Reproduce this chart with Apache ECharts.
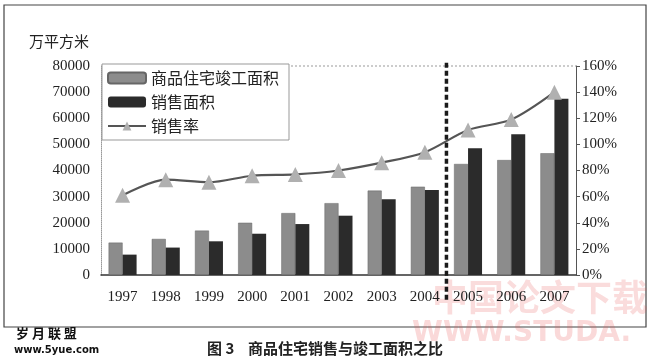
<!DOCTYPE html>
<html><head><meta charset="utf-8">
<script src="https://cdn.jsdelivr.net/npm/echarts@6/dist/echarts.min.js"></script>
<style>html,body{margin:0;padding:0;background:#fff}#c{width:650px;height:363px}</style>
</head><body><div id="c"></div>
<script>
const years = ['1997','1998','1999','2000','2001','2002','2003','2004','2005','2006','2007'];
const completed = [12400, 13800, 17000, 20000, 23700, 27500, 32300, 33800, 42500, 44000, 46600];
const sold = [7800, 10500, 12900, 15800, 19500, 22700, 29000, 32500, 48500, 53900, 67500];
const rate = [61, 73, 71, 76, 77, 80, 86, 94, 111, 119, 140];
const leftTicks = {min: 0, max: 80000, interval: 10000};
const rightTicks = {min: 0, max: 160, interval: 20};
const divider = [[8, -9500], [8, 82000]];

const serif = '"Liberation Serif", "Noto Sans CJK SC", serif';
const cjk = '"Noto Sans CJK SC", sans-serif';
const chart = echarts.init(document.getElementById('c'));
chart.setOption({
  animation: false,
  backgroundColor: '#fff',
  grid: {left: 101, right: 74, top: 66, bottom: 88},
  legend: {
    orient: 'vertical', left: 102, top: 64,
    backgroundColor: '#fff', borderColor: '#999', borderWidth: 1,
    padding: [6, 10, 6, 5], itemGap: 8, itemWidth: 38, itemHeight: 11,
    textStyle: {fontFamily: cjk, fontSize: 16, color: '#222'},
    data: [
      {name: '商品住宅竣工面积'},
      {name: '销售面积'},
      {name: '销售率'}
    ]
  },
  xAxis: [{
    type: 'category', data: years,
    axisLine: {lineStyle: {color: '#333', width: 1.5}},
    axisTick: {show: false},
    axisLabel: {fontFamily: serif, fontSize: 15, color: '#222', margin: 15}
  }, {
    type: 'value', min: 0, max: 11, show: false
  }],
  yAxis: [{
    type: 'value', ...leftTicks, name: '万平方米',
    nameTextStyle: {fontFamily: cjk, fontSize: 15, color: '#222', align: 'right', padding: [0, 12, 2, 0]},
    axisLine: {show: true, lineStyle: {color: '#999', type: 'dotted'}},
    axisTick: {show: false},
    splitLine: {show: false},
    axisLabel: {fontFamily: serif, fontSize: 15, color: '#222', margin: 11, formatter: v => String(v)}
  }, {
    type: 'value', ...rightTicks, position: 'right',
    axisLine: {show: true, lineStyle: {color: '#555'}},
    axisTick: {show: true, inside: false, length: 4, lineStyle: {color: '#555'}},
    splitLine: {show: false},
    axisLabel: {fontFamily: serif, fontSize: 15, color: '#222', margin: 6, formatter: '{value}%'}
  }, {
    type: 'value', ...leftTicks, show: false
  }],
  series: [{
    name: '商品住宅竣工面积', type: 'bar', data: completed,
    barWidth: 14, barGap: '0%',
    itemStyle: {color: '#8c8c8c', borderColor: '#666', borderWidth: 0.5}
  }, {
    name: '销售面积', type: 'bar', data: sold,
    barWidth: 14, barGap: '0%',
    itemStyle: {color: '#2b2b2b'}
  }, {
    name: '销售率', type: 'line', yAxisIndex: 1, data: rate,
    smooth: 0.3, symbol: 'triangle', symbolSize: 15,
    lineStyle: {color: '#555', width: 2.2},
    itemStyle: {color: '#b0b0b0'}
  }, {
    name: 'divider', type: 'line', xAxisIndex: 1, yAxisIndex: 2,
    data: divider, symbol: 'none', clip: false, silent: true,
    lineStyle: {color: '#1a1a1a', width: 3.5, type: [5, 3]}
  }],
  graphic: [
    {type: 'line', shape: {x1: 287, y1: 66, x2: 576, y2: 66}, style: {stroke: '#999', lineWidth: 1, lineDash: [2, 2]}},
    {type: 'rect', shape: {x: 4, y: 5, width: 642, height: 322}, style: {fill: 'none', stroke: '#444', lineWidth: 1.2}},
    {type: 'text', left: 'center', top: 341, style: {text: '图 3    商品住宅销售与竣工面积之比', font: 'bold 15px "Noto Sans CJK SC"', fill: '#222'}},
    {type: 'text', left: 16, top: 327, style: {text: '岁 月 联 盟', font: 'bold 13px "Noto Sans CJK SC"', fill: '#111'}},
    {type: 'text', left: 14, top: 345, style: {text: 'www.5yue.com', font: 'bold 10px "DejaVu Sans"', fill: '#111'}},
    {type: 'text', left: 432, top: 279, style: {text: '中国论文下载', font: 'bold 36px "Noto Sans CJK SC"', fill: 'rgba(230,80,80,0.2)'}},
    {type: 'text', left: 412, top: 320, style: {text: 'WWW.STUDA.', font: 'bold 28px "DejaVu Sans"', fill: 'rgba(230,80,80,0.22)'}}
  ]
});
</script></body></html>
